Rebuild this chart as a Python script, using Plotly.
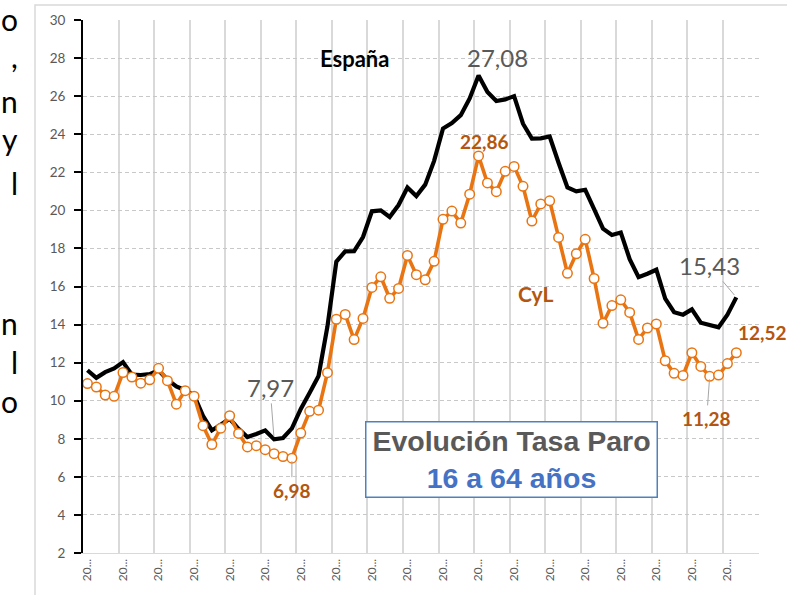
import plotly.graph_objects as go

# ---------------- data (quarterly, 2002T1 .. 2020T4 categories) ----------------
quarters = [f"{y}T{q}" for y in range(2002, 2021) for q in range(1, 5)]

espana = [11.60, 11.20, 11.50, 11.70, 12.03, 11.37, 11.35, 11.40, 11.60, 11.10,
          10.75, 10.55, 10.28, 9.20, 8.44, 8.74, 9.05, 8.52, 8.09, 8.25,
          8.44, 7.97, 8.04, 8.55, 9.57, 10.42, 11.30, 13.90, 17.30, 17.85,
          17.86, 18.60, 19.95, 20.00, 19.65, 20.28, 21.20, 20.75, 21.35, 22.60,
          24.30, 24.58, 25.00, 25.88, 27.08, 26.22, 25.74, 25.83, 26.00, 24.55,
          23.77, 23.78, 23.88, 22.50, 21.20, 21.00, 21.08, 20.07, 19.04, 18.71,
          18.84, 17.44, 16.49, 16.67, 16.88, 15.36, 14.65, 14.52, 14.80, 14.10,
          13.99, 13.86, 14.52, 15.43]

cyl = [10.90, 10.72, 10.30, 10.23, 11.48, 11.24, 10.92, 11.10, 11.70, 11.05,
       9.82, 10.53, 10.24, 8.69, 7.70, 8.56, 9.21, 8.28, 7.57, 7.64,
       7.43, 7.22, 7.07, 6.98, 8.30, 9.44, 9.50, 11.47, 14.28, 14.53,
       13.21, 14.32, 15.95, 16.51, 15.38, 15.90, 17.63, 16.62, 16.35, 17.32,
       19.53, 19.96, 19.33, 20.85, 22.86, 21.44, 20.98, 22.05, 22.31, 21.26,
       19.44, 20.34, 20.50, 18.58, 16.69, 17.72, 18.48, 16.42, 14.07, 15.00,
       15.30, 14.64, 13.22, 13.82, 14.03, 12.10, 11.44, 11.33, 12.52, 11.80,
       11.28, 11.35, 11.95, 12.52]

x_tick_labels = ["20..."] * 19
y_ticks = list(range(2, 31, 2))

ORANGE = "#E97512"
BROWN = "#B4560F"
GREY_TXT = "#595959"
FONT = "Lato, 'Open Sans', sans-serif"

x_idx = list(range(len(espana)))
n_cat = len(quarters)


def fmt(v):
    return f"{v:.2f}".replace(".", ",")


fig = go.Figure()
fig.add_trace(go.Scatter(x=x_idx, y=espana, mode="lines", name="España",
                         line=dict(color="black", width=4.2),
                         hovertext=quarters[:len(espana)]))
fig.add_trace(go.Scatter(x=x_idx, y=cyl, mode="lines+markers", name="CyL",
                         line=dict(color=ORANGE, width=3.6),
                         marker=dict(size=9.5, color="white",
                                     line=dict(color=ORANGE, width=1.5)),
                         hovertext=quarters[:len(cyl)]))

# key points
i_esp_max = espana.index(max(espana))
i_cyl_max = cyl.index(max(cyl))
i_esp_min = espana.index(min(espana[:30]))
i_cyl_min = cyl.index(min(cyl[:30]))
i_cyl_min2 = len(cyl) - 10 + cyl[-10:].index(min(cyl[-10:]))
i_last = len(espana) - 1

ann = []


def lab(i, y, text, color, bold, size, xshift=0, yshift=0):
    ann.append(dict(x=i, y=y, xref="x", yref="y", text=f"<b>{text}</b>" if bold else text,
                    showarrow=False, xshift=xshift, yshift=yshift,
                    xanchor="center", yanchor="middle",
                    font=dict(family=FONT, size=size, color=color)))


def leader(i, y, text, color, bold, size, ax, ay):
    ann.append(dict(x=i, y=y, xref="x", yref="y", text=f"<b>{text}</b>" if bold else text,
                    showarrow=True, arrowhead=0, arrowwidth=1, arrowcolor="#A6A6A6",
                    ax=ax, ay=ay, standoff=3,
                    font=dict(family=FONT, size=size, color=color)))


lab(i_esp_max, espana[i_esp_max], fmt(espana[i_esp_max]), GREY_TXT, False, 24, xshift=19, yshift=18)
lab(i_cyl_max, cyl[i_cyl_max], fmt(cyl[i_cyl_max]), BROWN, True, 19, xshift=6, yshift=14)
leader(i_esp_min, espana[i_esp_min], fmt(espana[i_esp_min]), GREY_TXT, False, 24, -4, -52)
leader(i_cyl_min, cyl[i_cyl_min], fmt(cyl[i_cyl_min]), BROWN, True, 19, 0, 32)
leader(i_last, espana[i_last], fmt(espana[i_last]), GREY_TXT, False, 24, -27, -32)
leader(i_cyl_min2, cyl[i_cyl_min2], fmt(cyl[i_cyl_min2]), BROWN, True, 19, -3, 42)
lab(i_last, cyl[i_last], fmt(cyl[i_last]), BROWN, True, 19, xshift=26, yshift=20)

W, H, L, R, T, B = 787, 595, 83, 28, 20, 42
PW, PH = W - L - R, H - T - B


def px(xp):
    return (xp - L) / PW


def py(yp):
    return (H - B - yp) / PH


# series names
ann.append(dict(x=px(354), y=py(58), xref="paper", yref="paper", text="<b>España</b>",
                xanchor="center", yanchor="middle", showarrow=False,
                font=dict(family=FONT, size=22, color="black")))
ann.append(dict(x=px(535), y=py(293), xref="paper", yref="paper", text="<b>CyL</b>",
                xanchor="center", yanchor="middle", showarrow=False,
                font=dict(family=FONT, size=21, color=BROWN)))

# title box
ann.append(dict(x=px(511), y=py(459.5), xref="paper", yref="paper",
                xanchor="center", yanchor="middle",
                text="<b>Evolución Tasa Paro</b><br><b><span style='color:#4472C4'>16 a 64 años</span></b>",
                showarrow=False, width=286, height=70, borderpad=2,
                bordercolor="#4F81BD", borderwidth=1.5, bgcolor="white",
                font=dict(family="Liberation Sans, Arial, sans-serif", size=28.5, color=GREY_TXT)))

# fragments of the surrounding document text on the left
side_chars = ["o", ",", "n", "y", "l", "n", "l", "o"]
side_y = [19, 56, 101, 139, 183, 323, 362, 401]
for ch, yy in zip(side_chars, side_y):
    ann.append(dict(x=px(20), y=py(yy), xref="paper", yref="paper", text=ch,
                    xanchor="right", yanchor="middle", showarrow=False,
                    font=dict(family=FONT, size=30, color="black")))

fig.update_layout(
    width=W, height=H, margin=dict(l=L, r=R, t=T, b=B),
    paper_bgcolor="white", plot_bgcolor="white", showlegend=False,
    font=dict(family=FONT), annotations=ann,
    shapes=[dict(type="rect", xref="paper", yref="paper",
                 x0=px(35), x1=px(800), y0=py(600), y1=py(5),
                 line=dict(color="#D9D9D9", width=1.5), layer="below")],
)

fig.update_xaxes(
    range=[-0.5, n_cat - 0.45], tickmode="array",
    tickvals=list(range(0, n_cat, 4)), ticktext=x_tick_labels, tickangle=-90,
    tickfont=dict(family=FONT, size=12, color=GREY_TXT),
    showgrid=False, zeroline=False, ticks="",
    showline=True, linecolor="#D9D9D9", linewidth=1,
    minor=dict(tickmode="array", tickvals=[k - 0.5 for k in range(0, n_cat + 1, 4)],
               showgrid=True, gridcolor="#D9D9D9", gridwidth=1.5, ticks=""),
)
fig.update_yaxes(
    range=[2, 30], tickmode="array", tickvals=y_ticks,
    showgrid=True, gridcolor="#C8C8C8", griddash="4px,3px", gridwidth=1,
    zeroline=False, showline=True, linecolor="black", linewidth=2,
    ticks="outside", ticklen=7, tickwidth=2, tickcolor="black",
    tickfont=dict(family=FONT, size=13.5, color=GREY_TXT),
    ticklabelstandoff=6,
)

fig.write_html("out.html", config={"displayModeBar": False},
               post_script="document.body.style.margin='0px';")
